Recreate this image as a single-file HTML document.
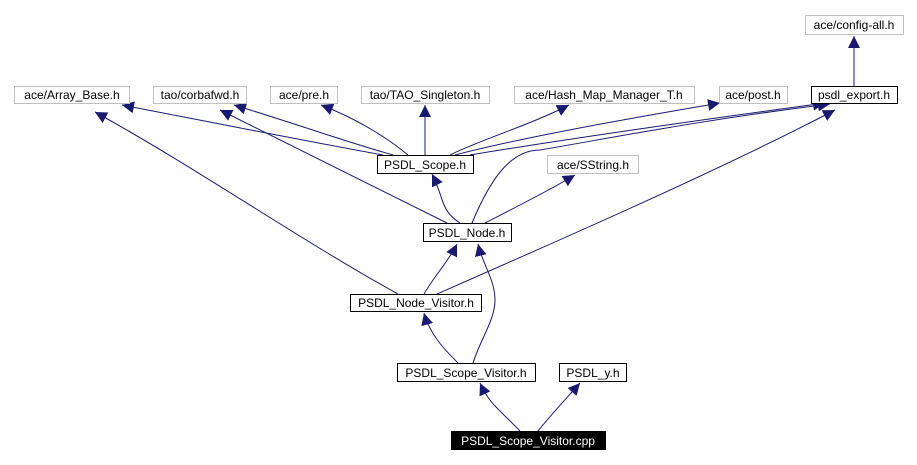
<!DOCTYPE html>
<html><head><meta charset="utf-8"><style>
html,body{margin:0;padding:0;background:#fff;width:917px;height:465px;overflow:hidden}
svg text{font-family:"Liberation Sans",Arial,sans-serif;font-size:12px;}
</style></head><body>
<svg width="917" height="465" viewBox="0 0 917 465" xmlns="http://www.w3.org/2000/svg">
<defs>
<marker id="a" viewBox="0 0 10 10" refX="10" refY="5" markerWidth="12" markerHeight="12" markerUnits="userSpaceOnUse" orient="auto">
<path d="M0,0 L10,5 L0,10 z" fill="#191970"/>
</marker>
</defs>
<g fill="none" stroke="#191970" stroke-width="1" marker-end="url(#a)">
<!-- config-all -->
<path d="M854,86 L854,36"/>
<!-- PSDL_Scope.h edges -->
<path d="M383,155 C300,140 200,120 122,105"/>
<path d="M393,155 C340,140 300,125 234,105"/>
<path d="M408,155 C390,140 360,120 321,105"/>
<path d="M425,155 L425,105"/>
<path d="M450,155 C480,140 530,125 569,105"/>
<path d="M455,155 C520,138 620,120 720,103"/>
<path d="M470,155 C560,140 700,120 825,103"/>
<!-- PSDL_Node.h edges -->
<path d="M460,223 C440,210 445,200 432,174"/>
<path d="M447,223 C380,190 300,150 220,110"/>
<path d="M485,223 C520,205 550,190 575,175"/>
<path d="M472,223 C490,180 510,150 540,150 C600,140 700,120 830,104"/>
<!-- PSDL_Node_Visitor.h -->
<path d="M398,294 C300,240 200,170 95,112"/>
<path d="M424,294 C435,275 448,262 457,244"/>
<path d="M437,294 C560,240 720,170 835,110"/>
<!-- PSDL_Scope_Visitor.h -->
<path d="M458,363 C445,350 430,335 424,313"/>
<path d="M473,363 C480,340 495,320 495,300 C495,280 483,265 478,244"/>
<!-- cpp -->
<path d="M520,431 C500,410 490,405 480,383"/>
<path d="M538,431 C555,410 565,400 580,383"/>
</g>
<g font-size="12">
<rect x="805.5" y="15.5" width="98" height="19" fill="#fff" stroke="#bfbfbf"/><text x="854" y="29" text-anchor="middle">ace/config-all.h</text>
<rect x="14.5" y="86.5" width="115" height="17" fill="#fff" stroke="#bfbfbf"/><text x="72" y="99" text-anchor="middle">ace/Array_Base.h</text>
<rect x="153.5" y="86.5" width="93" height="17" fill="#fff" stroke="#bfbfbf"/><text x="200" y="99" text-anchor="middle">tao/corbafwd.h</text>
<rect x="270.5" y="86.5" width="67" height="17" fill="#fff" stroke="#bfbfbf"/><text x="304" y="99" text-anchor="middle">ace/pre.h</text>
<rect x="361.5" y="86.5" width="128" height="17" fill="#fff" stroke="#bfbfbf"/><text x="425" y="99" text-anchor="middle">tao/TAO_Singleton.h</text>
<rect x="514.5" y="86.5" width="180" height="17" fill="#fff" stroke="#bfbfbf"/><text x="604" y="99" text-anchor="middle">ace/Hash_Map_Manager_T.h</text>
<rect x="719.5" y="86.5" width="68" height="17" fill="#fff" stroke="#bfbfbf"/><text x="753" y="99" text-anchor="middle">ace/post.h</text>
<rect x="811.5" y="86.5" width="86" height="17" fill="#fff" stroke="#000"/><text x="854" y="99" text-anchor="middle">psdl_export.h</text>
<rect x="377.5" y="155.5" width="96" height="18" fill="#fff" stroke="#000"/><text x="425" y="169" text-anchor="middle">PSDL_Scope.h</text>
<rect x="547.5" y="155.5" width="91" height="18" fill="#fff" stroke="#bfbfbf"/><text x="593" y="169" text-anchor="middle">ace/SString.h</text>
<rect x="423.5" y="223.5" width="88" height="18" fill="#fff" stroke="#000"/><text x="467" y="237" text-anchor="middle">PSDL_Node.h</text>
<rect x="350.5" y="294.5" width="131" height="17" fill="#fff" stroke="#000"/><text x="416" y="307" text-anchor="middle">PSDL_Node_Visitor.h</text>
<rect x="397.5" y="363.5" width="138" height="18" fill="#fff" stroke="#000"/><text x="466" y="377" text-anchor="middle">PSDL_Scope_Visitor.h</text>
<rect x="559.5" y="363.5" width="67" height="18" fill="#fff" stroke="#000"/><text x="593" y="377" text-anchor="middle">PSDL_y.h</text>
<rect x="451" y="431" width="155" height="19" fill="#000"/><text x="528" y="445" text-anchor="middle" fill="#fff">PSDL_Scope_Visitor.cpp</text>
</g>
</svg>
</body></html>
